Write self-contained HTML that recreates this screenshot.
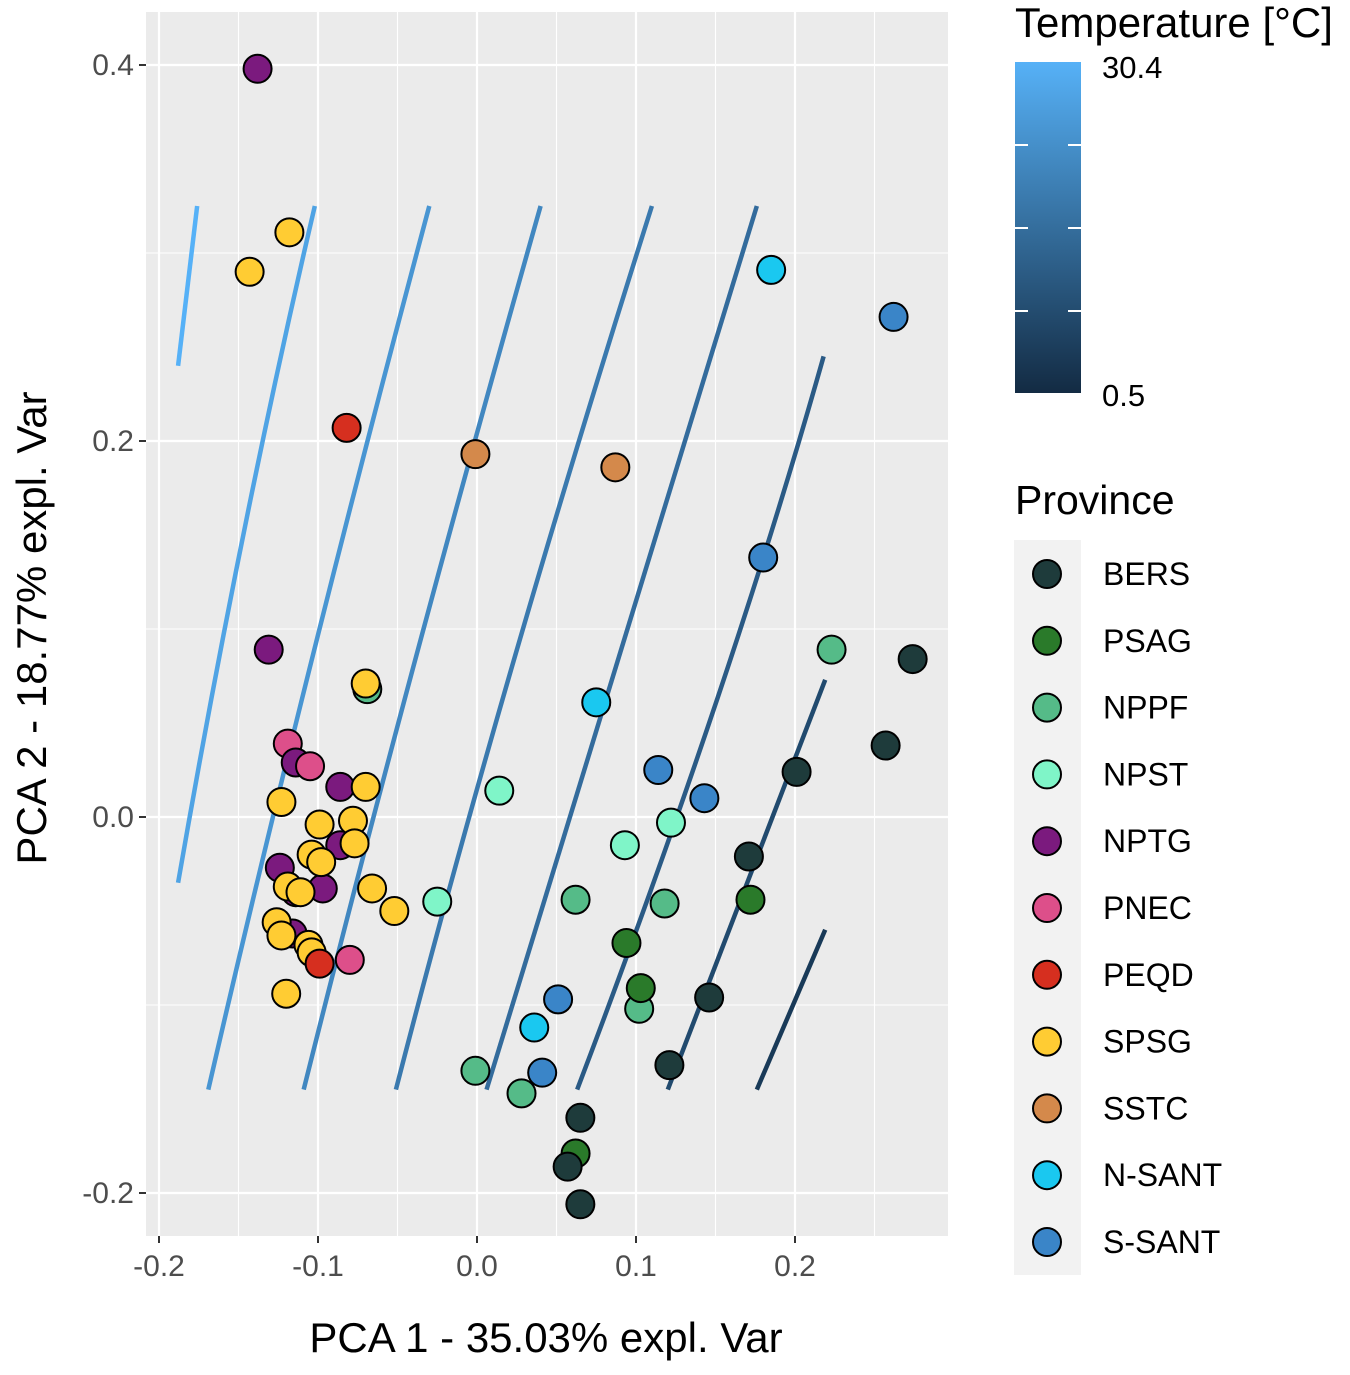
<!DOCTYPE html>
<html><head><meta charset="utf-8"><style>
body{margin:0;background:#fff;}
svg text{font-family:"Liberation Sans",sans-serif;}
</style></head><body>
<svg id="chart" width="1350" height="1370" xmlns="http://www.w3.org/2000/svg">
<defs><linearGradient id="tg" x1="0" y1="1" x2="0" y2="0"><stop offset="0" stop-color="#132B43"/><stop offset="1" stop-color="#56B1F7"/></linearGradient></defs>
<rect x="146" y="12" width="802" height="1224" fill="#EBEBEB"/>
<g id="grid"></g><g id="contours"></g><g id="points"></g><g id="axes"></g>
<text x="1015" y="37" font-size="42" fill="#000">Temperature [°C]</text>
<rect x="1015" y="62" width="66" height="331" fill="url(#tg)"/>
<g stroke="#fff" stroke-width="2">
<line x1="1015" y1="145" x2="1028" y2="145"/><line x1="1068" y1="145" x2="1081" y2="145"/>
<line x1="1015" y1="228" x2="1028" y2="228"/><line x1="1068" y1="228" x2="1081" y2="228"/>
<line x1="1015" y1="311" x2="1028" y2="311"/><line x1="1068" y1="311" x2="1081" y2="311"/>
</g>
<text x="1102" y="78" font-size="31" fill="#000">30.4</text>
<text x="1102" y="406" font-size="31" fill="#000">0.5</text>
<text x="1015" y="514" font-size="41" fill="#000">Province</text>
<rect x="1014" y="540" width="67" height="735" fill="#F2F2F2"/>
<g id="legend"></g>
<text x="546" y="1352" font-size="42" fill="#000" text-anchor="middle">PCA 1 - 35.03% expl. Var</text>
<text transform="translate(46,628) rotate(-90)" font-size="42" fill="#000" text-anchor="middle">PCA 2 - 18.77% expl. Var</text>
</svg>
<script>
const provinces=["BERS","PSAG","NPPF","NPST","NPTG","PNEC","PEQD","SPSG","SSTC","N-SANT","S-SANT"];
const provColors=["#1E3B3B","#2A7A2A","#55BB88","#7FF5C8","#7B1A7E","#DD4F8A","#D62F1F","#FFCC33","#D4894B","#1AC8F0","#3A85C8"];
const xTicks=[-0.2,-0.1,0.0,0.1,0.2];
const xTickLabels=["-0.2","-0.1","0.0","0.1","0.2"];
const yTicks=[0.4,0.2,0.0,-0.2];
const yTickLabels=["0.4","0.2","0.0","-0.2"];
const ptX=[-0.138,-0.131,-0.086,-0.086,-0.124,-0.114,-0.097,-0.116,
-0.143,-0.118,-0.069,-0.070,-0.070,-0.123,-0.099,-0.078,-0.077,-0.104,-0.098,-0.066,-0.052,-0.119,-0.111,-0.126,-0.123,-0.106,-0.104,-0.120,
-0.119,-0.114,-0.105,-0.080,-0.082,-0.099,-0.001,0.087,
0.014,-0.025,0.093,0.122,
0.223,0.062,0.118,0.102,-0.001,0.028,
0.172,0.094,0.103,0.062,
0.274,0.257,0.201,0.171,0.146,0.121,0.065,0.057,0.065,
0.185,0.075,0.036,
0.262,0.180,0.114,0.143,0.051,0.041];
const ptY=[0.398,0.089,0.016,-0.015,-0.027,-0.040,-0.038,-0.062,
0.290,0.311,0.068,0.071,0.016,0.008,-0.004,-0.002,-0.014,-0.020,-0.024,-0.038,-0.050,-0.037,-0.040,-0.056,-0.063,-0.068,-0.072,-0.094,
0.039,0.029,0.027,-0.076,0.207,-0.078,0.193,0.186,
0.014,-0.045,-0.015,-0.003,
0.089,-0.044,-0.046,-0.102,-0.135,-0.147,
-0.044,-0.067,-0.091,-0.179,
0.084,0.038,0.024,-0.021,-0.096,-0.132,-0.160,-0.186,-0.206,
0.291,0.061,-0.112,
0.266,0.138,0.025,0.010,-0.097,-0.136];
const ptProv=[4,4,4,4,4,4,4,4,
7,7,2,7,7,7,7,7,7,7,7,7,7,7,7,7,7,7,7,7,
5,4,5,5,6,6,8,8,
3,3,3,3,
2,2,2,2,2,2,
1,1,1,1,
0,0,0,0,0,0,0,0,0,
9,9,9,
10,10,10,10,10,10];
const cX0=[-0.188,-0.188,-0.169,-0.109,-0.051,0.006,0.063,0.120,0.176];
const cY0=[0.240,-0.035,-0.145,-0.145,-0.145,-0.145,-0.145,-0.145,-0.145];
const cXm=[-0.182,-0.147,-0.105,-0.040,0.022,0.087,0.150,0.1695,0.1975];
const cYm=[0.2825,0.150,0.080,0.080,0.080,0.080,0.060,-0.036,-0.1025];
const cX1=[-0.176,-0.102,-0.030,0.040,0.110,0.176,0.218,0.219,0.219];
const cY1=[0.325,0.325,0.325,0.325,0.325,0.325,0.245,0.073,-0.060];
const cColor=["#56B1F7","#4FA3E4","#4895D2","#4187C0","#3A79AE","#336B9C","#2A5A85","#214A6E","#193A58"];
const sx=v=>477+v*1590, sy=v=>817-v*1880;
const NS="http://www.w3.org/2000/svg";
function mk(p,t,a){const e=document.createElementNS(NS,t);for(const k in a)e.setAttribute(k,a[k]);p.appendChild(e);return e;}
const grid=document.getElementById('grid');
for(let i=0;i<xTicks.length;i++){
 const l=mk(grid,'line',{x1:sx(xTicks[i]),x2:sx(xTicks[i]),y1:12,y2:1236,stroke:'#fff','stroke-width':2.2});
 
 
 const m=mk(grid,'line',{x1:sx(xTicks[i]+0.05),x2:sx(xTicks[i]+0.05),y1:12,y2:1236,stroke:'#fff','stroke-width':1.1});
 
 
}
for(let i=0;i<yTicks.length;i++){
 const l=mk(grid,'line',{x1:146,x2:948,y1:sy(yTicks[i]),y2:sy(yTicks[i]),stroke:'#fff','stroke-width':2.2});
 
 
 if(yTicks[i]>-0.2){const m=mk(grid,'line',{x1:146,x2:948,y1:sy(yTicks[i]-0.1),y2:sy(yTicks[i]-0.1),stroke:'#fff','stroke-width':1.1});
 
 }
}
const ax=document.getElementById('axes');
for(let i=0;i<xTicks.length;i++){
 mk(ax,'line',{x1:sx(xTicks[i]),x2:sx(xTicks[i]),y1:1236,y2:1243,stroke:'#333','stroke-width':2});
 const t=mk(ax,'text',{x:sx(xTicks[i]),y:1276,'font-size':30,fill:'#4D4D4D','text-anchor':'middle'});t.textContent=xTickLabels[i];
 
 
}
for(let i=0;i<yTicks.length;i++){
 mk(ax,'line',{x1:139,x2:146,y1:sy(yTicks[i]),y2:sy(yTicks[i]),stroke:'#333','stroke-width':2});
 const t=mk(ax,'text',{x:134,y:sy(yTicks[i])+10,'font-size':30,fill:'#4D4D4D','text-anchor':'end'});t.textContent=yTickLabels[i];
 
 
}
const cg=document.getElementById('contours');
for(let i=0;i<cX0.length;i++){
 const d=`M${sx(cX0[i])},${sy(cY0[i])} Q${2*sx(cXm[i])-(sx(cX0[i])+sx(cX1[i]))/2},${2*sy(cYm[i])-(sy(cY0[i])+sy(cY1[i]))/2} ${sx(cX1[i])},${sy(cY1[i])}`;
 const p=mk(cg,'path',{d:d,fill:'none',stroke:cColor[i],'stroke-width':4.5});
 
 
}
const pg=document.getElementById('points');
for(let i=0;i<ptX.length;i++){
 const c=mk(pg,'circle',{cx:sx(ptX[i]),cy:sy(ptY[i]),r:14,fill:provColors[ptProv[i]],stroke:'#000','stroke-width':2});
 
 
}
const lg=document.getElementById('legend');
for(let i=0;i<provinces.length;i++){
 const y=574+66.8*i;
 const c=mk(lg,'circle',{cx:1047,cy:y,r:14,fill:provColors[i],stroke:'#000','stroke-width':2});
 
 
 const t=mk(lg,'text',{x:1103,y:y+11,'font-size':32,fill:'#000'});t.textContent=provinces[i];
 
 
}
</script>
</body></html>
